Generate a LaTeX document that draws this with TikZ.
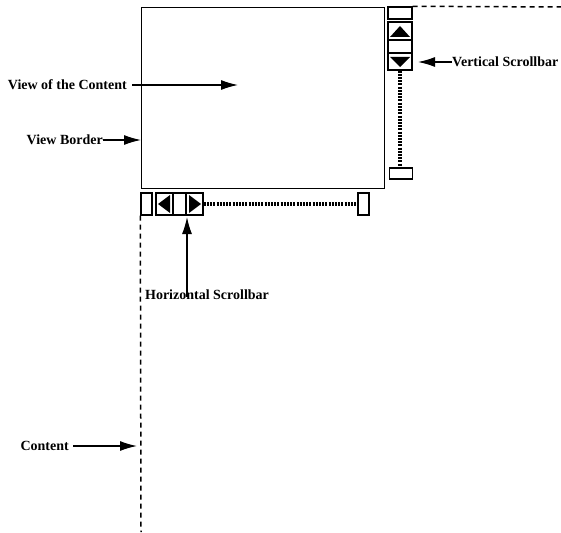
\documentclass[tikz,border=0pt]{standalone}
\usepackage{fontspec}
\setmainfont{Liberation Serif}
\usetikzlibrary{positioning,arrows.meta}
\tikzset{
  label/.style={font=\bfseries\fontsize{14}{16}\selectfont, inner sep=0pt},
  cell/.style={draw, line width=1.4pt, inner sep=0pt},
  pointer/.style={line width=1.3pt, -{Latex[length=17pt,width=10pt]}},
  track/.style={line width=3.5pt, dash pattern=on 2pt off 1.2pt},
  edge/.style={line width=1.5pt, dash pattern=on 5pt off 4pt}
}
\begin{document}
\begin{tikzpicture}[x=1pt, y=-1pt]
        \useasboundingbox (0,0) rectangle (561,532);
        % View of the content
        \node[cell, minimum width=243pt, minimum height=181pt, anchor=north west] (view) at (141,7) {};

        % Vertical scrollbar (right)
        \node[cell, minimum width=24pt, minimum height=12pt] (vtop) at (400,13) {};
        \node[cell, minimum width=24pt, minimum height=18pt] (vup) at (400,31) {};
        \node[cell, minimum width=24pt, minimum height=13pt] (vmid) at (400,46.5) {};
        \node[cell, minimum width=24pt, minimum height=17pt] (vdown) at (400,61.5) {};
        \node[cell, minimum width=23pt, minimum height=11pt] (vbot) at (401,173.5) {};
        \fill (400,26) -- (410,37) -- (390,37) -- cycle;
        \fill (400,67) -- (410,57) -- (390,57) -- cycle;
        \draw[track] (vdown.south) -- (vbot.north -| vdown.south);

        % Horizontal scrollbar (bottom)
        \node[cell, minimum width=11pt, minimum height=22pt] (hleft) at (146.5,204) {};
        \node[cell, minimum width=17pt, minimum height=22pt] (hback) at (164.5,204) {};
        \node[cell, minimum width=13pt, minimum height=22pt] (hmid) at (179.5,204) {};
        \node[cell, minimum width=17pt, minimum height=22pt] (hfwd) at (194.5,204) {};
        \node[cell, minimum width=11pt, minimum height=22pt] (hright) at (363.5,204) {};
        \fill (158,204) -- (170,195) -- (170,213) -- cycle;
        \fill (201,204) -- (189,195) -- (189,213) -- cycle;
        \draw[track] (hfwd.east) -- (hright.west);

        % Content edges
        \draw[edge] (vtop.north east) -- (561,7);
        \draw[edge] (hleft.south west) -- (141,532);

        % Labels
        \node[label, anchor=east] (lview) at (127,85) {View of the Content};
        \coordinate (tview) at (238,85);
        \draw[pointer] (lview.east) ++(5pt,0) -- (tview);

        \node[label, anchor=east] (lborder) at (103,140) {View Border};
        \draw[pointer] (lborder.east) -- (view.west |- lborder.east);

        \node[label, anchor=west] (lvert) at (452,62) {Vertical Scrollbar};
        \draw[pointer] (lvert.west) -- ++(-34pt,0);

        \node[label] (lhoriz) at (207,295) {Horizontal Scrollbar};
        \coordinate (thoriz) at (187,217);
        \draw[pointer] (thoriz |- lhoriz.north) ++(0,-7pt) -- (thoriz);

        \node[label, anchor=east] (lcontent) at (69,446) {Content};
        \draw[pointer] (lcontent.east) ++(4pt,0) -- (137,446);
\end{tikzpicture}
\end{document}
